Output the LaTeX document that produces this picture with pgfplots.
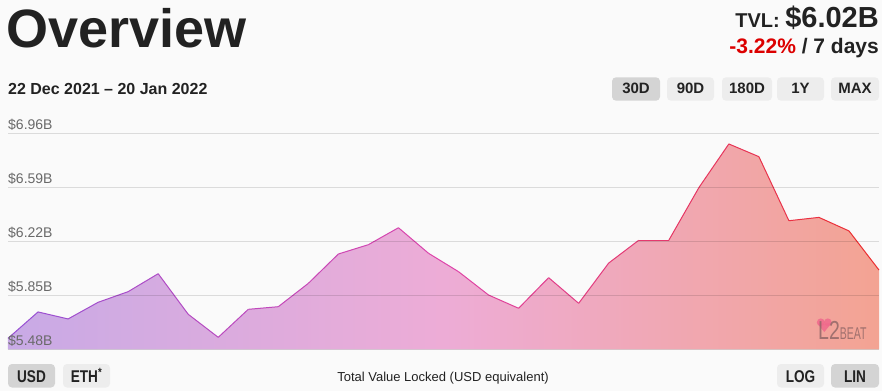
\documentclass[border=0pt]{standalone}
\usepackage{pgfplots}
\pgfplotsset{compat=1.18}
\usepackage{fontspec}
\setmainfont{Liberation Sans}
\definecolor{bg}{RGB}{250,250,250}
\definecolor{ink}{RGB}{34,34,34}
\definecolor{tickgray}{RGB}{105,105,105}
\definecolor{btnsel}{RGB}{212,212,212}
\definecolor{btn}{RGB}{237,237,237}
\definecolor{tvlred}{RGB}{220,0,0}
\definecolor{heart}{RGB}{240,105,140}
\definecolor{logotxt}{RGB}{140,100,100}
\pgfdeclarehorizontalshading{tvlfill}{100bp}{rgb(0bp)=(0.784,0.667,0.902); rgb(25bp)=(0.784,0.667,0.902); rgb(50bp)=(0.93,0.675,0.84); rgb(75bp)=(0.953,0.64,0.575); rgb(100bp)=(0.953,0.64,0.575)}
\pgfplotstableread{
x y
0 5.555
1 5.736
2 5.688
3 5.802
4 5.875
5 5.998
6 5.720
7 5.562
8 5.754
9 5.772
10 5.932
11 6.133
12 6.197
13 6.313
14 6.138
15 6.012
16 5.852
17 5.761
18 5.971
19 5.795
20 6.071
21 6.227
22 6.227
23 6.587
24 6.887
25 6.800
26 6.361
27 6.384
28 6.291
29 6.023
}\tvldata
\begin{document}
\begin{tikzpicture}
\fill[bg] (0pt,0pt) rectangle (882pt,-391pt);
\begin{axis}[
  at={(8pt,-349.3pt)}, anchor=south west,
  scale only axis, width=871pt, height=216pt,
  xmin=0, xmax=29, ymin=5.48, ymax=6.96,
  clip=false, axis on top,
  axis line style={draw=none},
  xtick=\empty,
  ytick={5.48,5.85,6.22,6.59,6.96},
  yticklabels={\$5.48B,\$5.85B,\$6.22B,\$6.59B,\$6.96B},
  major tick length=0pt,
  ymajorgrids,
  grid style={draw=black, opacity=0.12, line width=0.9pt},
  yticklabel style={anchor=base west, inner sep=0pt, yshift=4pt, font=\fontsize{14}{14}\selectfont, text=tickgray},
  colormap={tvl}{rgb255(0)=(150,80,212); rgb255(1)=(222,68,170); rgb255(2)=(236,45,45)},
]
\addplot[draw=none, shade, shading=tvlfill] table[x=x,y=y]{\tvldata} \closedcycle;
\addplot[mesh, point meta=x, line width=1pt] table[x=x,y=y]{\tvldata};
\end{axis}
\begin{scope}[x=1pt,y=-1pt]
% header
\node[anchor=base west, inner sep=0pt, text=ink, font=\fontsize{54}{54}\selectfont\bfseries] at (6,47) {Overview};
\node[anchor=base east, inner sep=0pt, text=ink] at (879,27) {{\fontsize{20}{20}\selectfont\bfseries TVL: }{\fontsize{29}{29}\selectfont\bfseries \$6.02B}};
\node[anchor=base east, inner sep=0pt, text=ink, font=\fontsize{21}{21}\selectfont\bfseries] at (879,53.3) {\textcolor{tvlred}{-3.22\%} / 7 days};
\node[anchor=base west, inner sep=0pt, text=ink, font=\fontsize{16}{16}\selectfont\bfseries] at (8,94) {22 Dec 2021 – 20 Jan 2022};
% range buttons
\foreach \a/\b/\t/\c in {612/660/30D/btnsel, 667/714/90D/btn, 722/772/180D/btn, 777/824/1Y/btn, 831/879/MAX/btn}{
  \fill[\c, rounded corners=4pt] (\a,77.3) rectangle (\b,100.7);
  \node[anchor=base, inner sep=0pt, text=ink, font=\fontsize{15}{15}\selectfont\bfseries] at ({(\a+\b)/2},93.5) {\t};
}
% bottom buttons
\fill[btnsel, rounded corners=4pt] (8,364) rectangle (55,387.5);
\fill[btn, rounded corners=4pt] (63,364) rectangle (110,387.5);
\fill[btn, rounded corners=4pt] (777,364) rectangle (824,387.5);
\fill[btnsel, rounded corners=4pt] (831,364) rectangle (879,387.5);
\node[anchor=base, inner sep=0pt, text=ink, font=\fontsize{17}{17}\selectfont\bfseries] at (31.5,382.7) {\scalebox{0.8}[1]{USD}};
\node[anchor=base, inner sep=0pt, text=ink, font=\fontsize{17}{17}\selectfont\bfseries] at (86.5,382.7) {\scalebox{0.8}[1]{ETH\textsuperscript{*}}};
\node[anchor=base, inner sep=0pt, text=ink, font=\fontsize{17}{17}\selectfont\bfseries] at (800.5,382.7) {\scalebox{0.8}[1]{LOG}};
\node[anchor=base, inner sep=0pt, text=ink, font=\fontsize{17}{17}\selectfont\bfseries] at (855,382.7) {\scalebox{0.8}[1]{LIN}};
\node[anchor=base, inner sep=0pt, text=ink, font=\fontsize{13}{13}\selectfont] at (443,381) {Total Value Locked (USD equivalent)};
% logo
\begin{scope}[opacity=0.85]
\fill[heart] (820.8,322.3) circle (3.9pt);
\fill[heart] (827.8,322.3) circle (3.9pt);
\fill[heart] (817.1,323.3) -- (831.5,323.3) -- (824.3,332) -- cycle;
\end{scope}
\node[anchor=base west, inner sep=0pt, text=logotxt, font=\fontsize{26}{26}\selectfont, opacity=0.8] at (818,339) {\scalebox{0.75}[1]{L2}\scalebox{0.62}[1]{\fontsize{17}{17}\selectfont BEAT}};
\end{scope}
\pgfresetboundingbox
\useasboundingbox (0pt,0pt) rectangle (882pt,-391pt);
\end{tikzpicture}
\end{document}
